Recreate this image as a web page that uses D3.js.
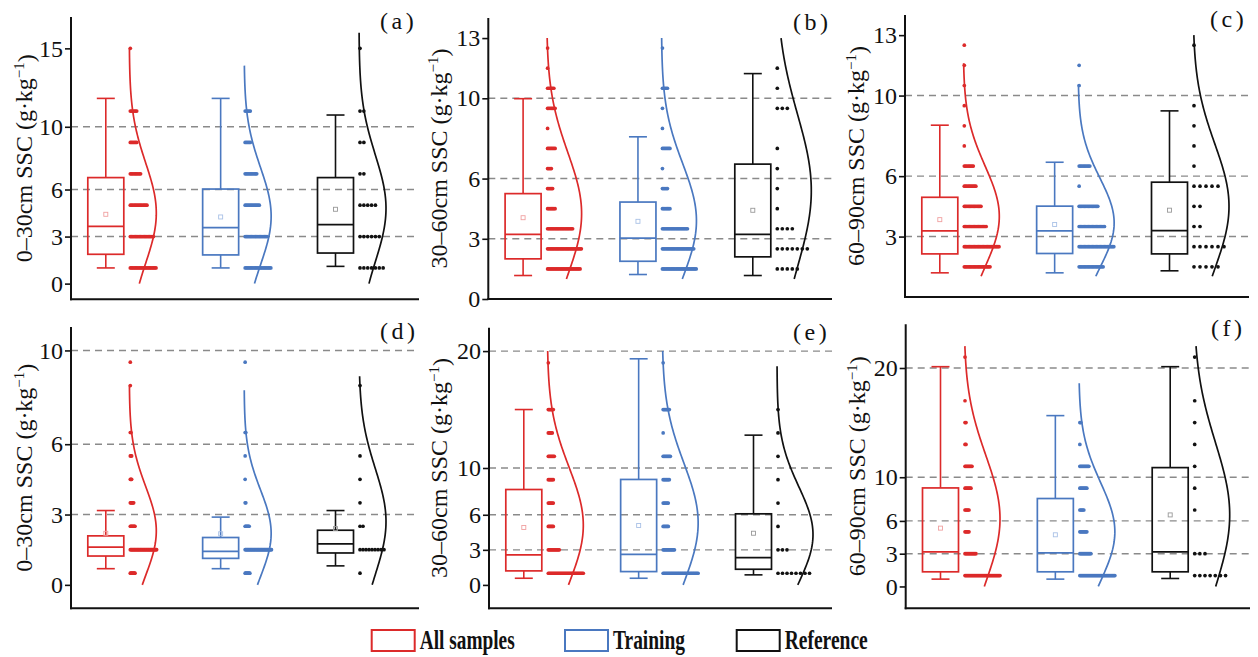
<!DOCTYPE html>
<html>
<head>
<meta charset="utf-8">
<script src="https://cdn.jsdelivr.net/npm/d3@7/dist/d3.min.js"></script>
<style>
  body { margin: 0; background: #fff; }
  svg { display: block; font-family: "Liberation Serif", "Times New Roman", serif; }
</style>
</head>
<body>
<svg id="chart" width="1258" height="657"></svg>
<script>
// ---- data ----
var panelNames = ["(a)", "(b)", "(c)", "(d)", "(e)", "(f)"];
var depthLabels = ["0\u201330cm", "30\u201360cm", "60\u201390cm", "0\u201330cm", "30\u201360cm", "60\u201390cm"];
var groups = ["All samples", "Training", "Reference"];
var yDomains = [[-1, 17], [0, 14], [0, 14], [-1, 11], [-2, 22], [-2, 24]];
var yTicks = [[0, 3, 6, 10, 15], [0, 3, 6, 10, 13], [3, 6, 10, 13], [0, 3, 6, 10], [0, 3, 6, 10, 20], [0, 3, 6, 10, 20]];
var gridValues = [3, 6, 10, 20];

// box stats: [min, q1, median, q3, max, mean]
var boxAll = [
    [1.0, 1.87, 3.65, 6.76, 11.81, 4.42],
    [1.17, 2.0, 3.22, 5.25, 9.98, 4.05],
    [1.2, 2.14, 3.28, 4.95, 8.53, 3.84],
    [0.69, 1.23, 1.61, 2.09, 3.17, 2.2],
    [0.57, 1.2, 2.57, 8.16, 15.0, 4.91],
    [0.67, 1.34, 3.17, 9.02, 20.12, 5.34]
];
var boxTraining = [
    [1.0, 1.83, 3.57, 6.03, 11.81, 4.25],
    [1.22, 1.88, 3.03, 4.83, 8.08, 3.87],
    [1.2, 2.16, 3.28, 4.51, 6.69, 3.6],
    [0.69, 1.13, 1.43, 2.02, 2.89, 2.18],
    [0.57, 1.14, 2.62, 9.02, 19.34, 5.08],
    [0.67, 1.34, 3.08, 8.05, 15.64, 4.73]
];
var boxReference = [
    [1.1, 1.95, 3.76, 6.76, 10.75, 4.74],
    [1.17, 2.1, 3.22, 6.72, 11.23, 4.42],
    [1.3, 2.14, 3.3, 5.7, 9.24, 4.31],
    [0.81, 1.36, 1.75, 2.33, 3.17, 2.4],
    [0.86, 1.34, 2.34, 6.08, 12.81, 4.42],
    [0.73, 1.34, 3.17, 10.88, 20.12, 6.55]
];

// dot plot bins (bin centres) and dot counts per bin
var binCenters = [
    [1, 3, 5, 7, 9, 11, 13, 15],
    [1.5, 2.5, 3.5, 4.5, 5.5, 6.5, 7.5, 8.5, 9.5, 10.5, 11.5, 12.5],
    [1.5, 2.5, 3.5, 4.5, 5.5, 6.5, 7.5, 8.5, 9.5, 10.5, 11.5, 12.5],
    [0.5, 1.5, 2.5, 3.5, 4.5, 5.5, 6.5, 7.5, 8.5, 9.5],
    [1, 3, 5, 7, 9, 11, 13, 15, 17, 19],
    [1, 3, 5, 7, 9, 11, 13, 15, 17, 19, 21]
];
var countsAll = [
    [21, 19, 14, 9, 6, 6, 0, 1],
    [27, 28, 21, 7, 5, 4, 7, 1, 7, 6, 1, 1],
    [21, 28, 18, 14, 10, 8, 1, 1, 1, 1, 1, 1],
    [8, 40, 8, 6, 3, 3, 2, 0, 1, 1],
    [36, 12, 6, 6, 6, 7, 5, 6, 0, 1],
    [36, 12, 5, 5, 7, 8, 2, 2, 1, 0, 1]
];
var countsTraining = [
    [21, 18, 12, 10, 5, 5, 0, 0],
    [28, 26, 21, 7, 5, 1, 7, 1, 1, 5, 0, 1],
    [19, 27, 20, 15, 1, 9, 0, 0, 0, 1, 1, 0],
    [8, 40, 7, 2, 1, 1, 2, 0, 0, 1],
    [35, 12, 6, 6, 7, 8, 1, 7, 0, 1],
    [36, 12, 8, 5, 8, 10, 1, 2, 0, 0, 0]
];
var countsReference = [
    [7, 6, 5, 2, 2, 2, 0, 1],
    [5, 7, 4, 1, 1, 1, 1, 0, 3, 1, 1, 0],
    [5, 6, 2, 2, 5, 1, 1, 1, 1, 0, 0, 1],
    [1, 9, 2, 1, 1, 1, 0, 0, 1, 0],
    [8, 3, 1, 1, 1, 1, 1, 1, 0, 0],
    [7, 3, 0, 1, 1, 1, 1, 1, 1, 0, 1]
];

// fitted normal curves: [mean, sd, from, to]
var curveAll = [
    [4.5, 3.2, 0, 15], [4.25, 3.05, 1, 13], [4.0, 2.5, 1.03, 11.6],
    [2.3, 1.9, 0, 8.5], [5.1, 4.95, 0, 20], [6.2, 5.8, 0, 22]
];
var curveTraining = [
    [4.3, 3.1, 0, 13.9], [3.9, 2.85, 1, 13], [3.68, 2.22, 1.03, 10.55],
    [2.2, 1.85, 0, 8.3], [5.3, 5.1, 0, 20], [5.0, 4.5, 0, 18.6]
];
var curveReference = [
    [4.8, 3.4, 0, 16], [5.4, 3.8, 1, 13], [4.5, 3.1, 1.03, 13],
    [2.7, 2.25, 0, 8.9], [4.3, 4.1, 0, 18.7], [6.55, 6.6, 0, 22]
];

// ---- layout / style ----
var colors = ["#dc2a2a", "#4a78c0", "#111111"];
var meanColors = ["#f0a0a0", "#a9c1e6", "#999999"];
var panelBoxes = [
    {left: 71, right: 419, top: 17, bottom: 299.3, w: 27, lab: 47},
    {left: 488.3, right: 832, top: 18, bottom: 299, w: 35, lab: 50},
    {left: 905, right: 1249, top: 15, bottom: 297, w: 36, lab: 49},
    {left: 71, right: 419, top: 327, bottom: 608.3, w: 27, lab: 47},
    {left: 489, right: 832, top: 327.7, bottom: 608.3, w: 36, lab: 50},
    {left: 905.7, right: 1250, top: 324.3, bottom: 608.3, w: 36, lab: 49}
];
var boxHalf = 18, capHalf = 9, dotOffset = 23.5;

var svg = d3.select("#chart");
svg.append("rect").attr("width", 1258).attr("height", 657).attr("fill", "#fff");

var boxes = [boxAll, boxTraining, boxReference];
var counts = [countsAll, countsTraining, countsReference];
var curves = [curveAll, curveTraining, curveReference];

panelBoxes.forEach(function(pb, p) {
    var g = svg.append("g");

    var yScale = d3.scaleLinear()
        .domain(yDomains[p])
        .range([pb.bottom, pb.top]);

    var xScale = d3.scalePoint()
        .domain(groups)
        .range([pb.left + 34.8, pb.left + 264.5]);

    // dashed grid lines
    g.selectAll(".grid")
        .data(gridValues.filter(function(v) { return v < yDomains[p][1]; }))
        .enter().append("line")
        .attr("x1", pb.left).attr("x2", pb.right)
        .attr("y1", function(d) { return yScale(d); })
        .attr("y2", function(d) { return yScale(d); })
        .attr("stroke", "#8a8a8a")
        .attr("stroke-width", 1.4)
        .attr("stroke-dasharray", "7,5");

    groups.forEach(function(grp, k) {
        var cx = xScale(grp);
        var s = boxes[k][p];
        var col = colors[k];

        // whiskers
        g.append("line").attr("x1", cx).attr("x2", cx)
            .attr("y1", yScale(s[0])).attr("y2", yScale(s[1]))
            .attr("stroke", col).attr("stroke-width", 1.6);
        g.append("line").attr("x1", cx).attr("x2", cx)
            .attr("y1", yScale(s[3])).attr("y2", yScale(s[4]))
            .attr("stroke", col).attr("stroke-width", 1.6);
        [s[0], s[4]].forEach(function(v) {
            g.append("line").attr("x1", cx - capHalf).attr("x2", cx + capHalf)
                .attr("y1", yScale(v)).attr("y2", yScale(v))
                .attr("stroke", col).attr("stroke-width", 1.6);
        });
        // box
        g.append("rect")
            .attr("x", cx - boxHalf).attr("width", boxHalf * 2)
            .attr("y", yScale(s[3])).attr("height", yScale(s[1]) - yScale(s[3]))
            .attr("fill", "none").attr("stroke", col).attr("stroke-width", 1.7);
        g.append("line").attr("x1", cx - boxHalf).attr("x2", cx + boxHalf)
            .attr("y1", yScale(s[2])).attr("y2", yScale(s[2]))
            .attr("stroke", col).attr("stroke-width", 1.7);
        // mean marker
        g.append("rect")
            .attr("x", cx - 2).attr("y", yScale(s[5]) - 2)
            .attr("width", 4).attr("height", 4)
            .attr("fill", "none").attr("stroke", meanColors[k]).attr("stroke-width", 0.9);

        // dots
        var base = cx + dotOffset;
        var cnt = counts[k][p];
        var maxCount = d3.max(cnt);
        var dotX = d3.scaleLinear().domain([0, maxCount]).range([base + 1, base + 1 + pb.w]);
        var dots = [];
        cnt.forEach(function(c, i) {
            d3.range(c).forEach(function(j) { dots.push({v: binCenters[p][i], j: j}); });
        });
        g.selectAll(".dot" + k)
            .data(dots)
            .enter().append("circle")
            .attr("cx", function(d) { return dotX(d.j); })
            .attr("cy", function(d) { return yScale(d.v); })
            .attr("r", 1.85)
            .attr("fill", col);

        // normal curve
        var c = curves[k][p];
        var curveX = d3.scaleLinear().domain([0, 1]).range([base, base + pb.w]);
        var pts = d3.range(0, 101).map(function(i) {
            var v = c[2] + (c[3] - c[2]) * i / 100;
            return [curveX(Math.exp(-(v - c[0]) * (v - c[0]) / (2 * c[1] * c[1]))), yScale(v)];
        });
        g.append("path")
            .attr("d", d3.line()(pts))
            .attr("fill", "none")
            .attr("stroke", col)
            .attr("stroke-width", 1.7);
    });

    // axes
    var yAxis = d3.axisLeft(yScale).tickValues(yTicks[p]).tickSize(6).tickPadding(2);
    var ya = g.append("g")
        .attr("transform", "translate(" + pb.left + ",0)")
        .call(yAxis);
    ya.select(".domain").remove();
    ya.selectAll(".tick line").attr("stroke", "#111").attr("stroke-width", 1.6);
    ya.selectAll(".tick text")
        .attr("fill", "#111")
        .style("font-family", "Liberation Serif, serif")
        .style("font-size", "24px");

    g.append("line").attr("x1", pb.left).attr("x2", pb.left)
        .attr("y1", pb.top).attr("y2", pb.bottom + 1)
        .attr("stroke", "#111").attr("stroke-width", 2);
    g.append("line").attr("x1", pb.left - 1).attr("x2", pb.right)
        .attr("y1", pb.bottom).attr("y2", pb.bottom)
        .attr("stroke", "#111").attr("stroke-width", 2);

    // y label
    var midY = (pb.top + pb.bottom) / 2;
    var lab = g.append("text")
        .attr("transform", "translate(" + (pb.left - pb.lab) + "," + midY + ") rotate(-90)")
        .attr("text-anchor", "middle")
        .attr("dy", "0.35em")
        .attr("fill", "#111")
        .style("font-size", "24px");
    lab.append("tspan").text(depthLabels[p] + " SSC (g\u00b7kg");
    lab.append("tspan").attr("dy", "-0.55em").style("font-size", "15px").text("\u22121");
    lab.append("tspan").attr("dy", "0.4em").text(")");

    // panel tag
    g.append("text")
        .attr("x", pb.right - 39)
        .attr("y", pb.top + 12)
        .attr("fill", "#111")
        .attr("letter-spacing", "3.5px")
        .style("font-size", "24px")
        .text(panelNames[p]);
});

// legend
var legendX = [371.7, 565, 736.7];
var legendTextW = [95, 72, 83];
var legend = svg.selectAll(".legend")
    .data(groups)
    .enter().append("g")
    .attr("class", "legend")
    .attr("transform", function(d, i) { return "translate(" + legendX[i] + ",630)"; });
legend.append("rect")
    .attr("width", 43).attr("height", 21)
    .attr("fill", "#fff")
    .attr("stroke", function(d, i) { return colors[i]; })
    .attr("stroke-width", 2);
legend.append("text")
    .attr("x", 48)
    .attr("y", 19)
    .attr("fill", "#111")
    .attr("textLength", function(d, i) { return legendTextW[i]; })
    .attr("lengthAdjust", "spacingAndGlyphs")
    .style("font-size", "27px")
    .style("font-weight", "bold")
    .text(function(d) { return d; });
</script>
</body>
</html>
